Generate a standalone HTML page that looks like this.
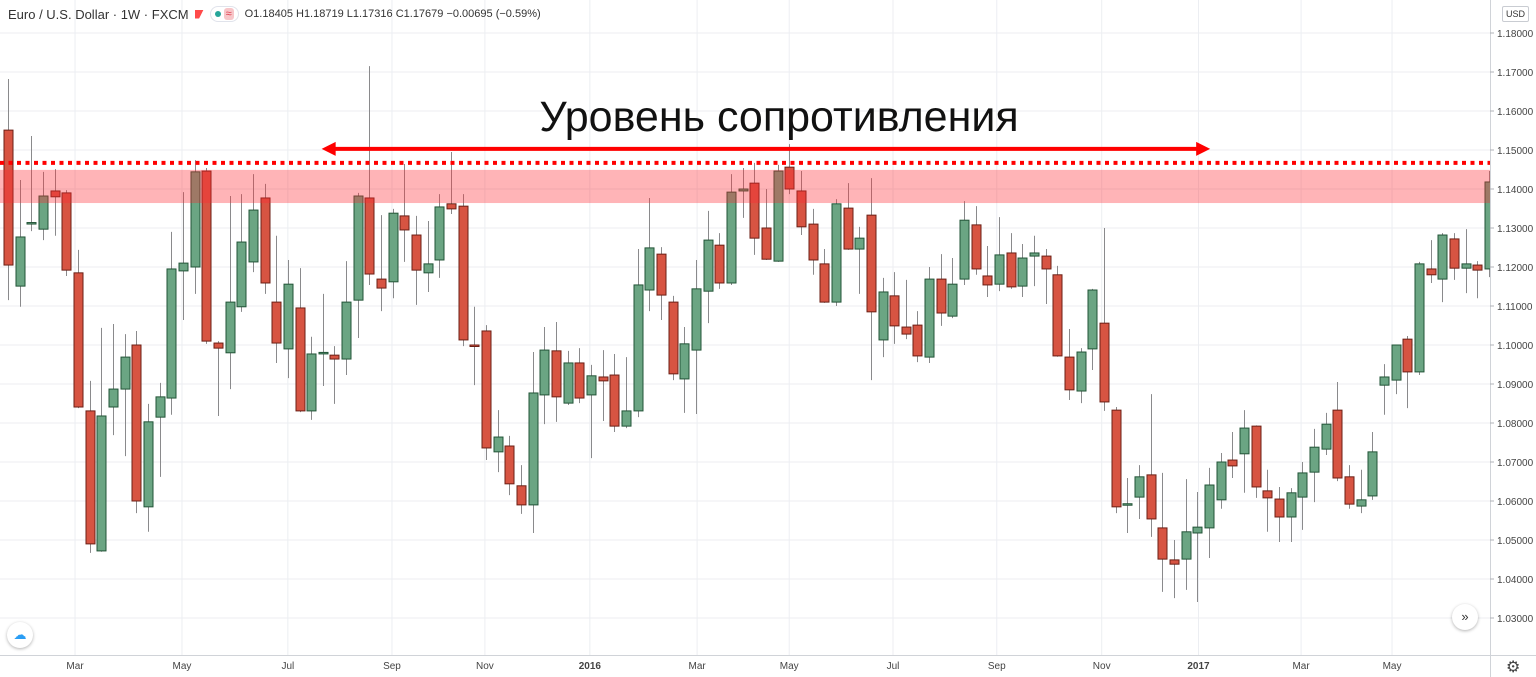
<!DOCTYPE html>
<html><head><meta charset="utf-8">
<style>
html,body{margin:0;padding:0;background:#fff;width:1536px;height:677px;overflow:hidden;font-family:"Liberation Sans","DejaVu Sans",sans-serif}
svg{display:block}
</style></head>
<body>
<svg id="chart" width="1536" height="677" viewBox="0 0 1536 677" xmlns="http://www.w3.org/2000/svg">
  <g id="grid"></g>
  <g id="candles"></g>
  <g id="overlay"></g>
  <g id="axes"></g>
</svg>
<script>
const opens=[1.1551,1.1151,1.1313,1.1297,1.1395,1.1390,1.1185,1.0831,1.0472,1.0841,1.0887,1.1000,1.0585,1.0815,1.0864,1.1190,1.1200,1.1446,1.1005,1.0980,1.1098,1.1213,1.1377,1.1110,1.0990,1.1095,1.0831,1.0980,1.0974,1.0964,1.1115,1.1377,1.1169,1.1162,1.1331,1.1282,1.1185,1.1218,1.1362,1.1356,1.1000,1.1036,1.0726,1.0741,1.0639,1.0590,1.0872,1.0985,1.0851,1.0954,1.0872,1.0918,1.0923,1.0792,1.0831,1.1141,1.1233,1.1110,1.0913,1.0987,1.1138,1.1256,1.1159,1.1395,1.1415,1.1300,1.1215,1.1456,1.1395,1.1310,1.1208,1.1110,1.1351,1.1246,1.1333,1.1013,1.1126,1.1046,1.1051,1.0969,1.1169,1.1074,1.1169,1.1308,1.1177,1.1156,1.1236,1.1151,1.1228,1.1228,1.1180,1.0969,1.0882,1.0990,1.1056,1.0833,1.0592,1.0610,1.0667,1.0531,1.0449,1.0451,1.0518,1.0531,1.0603,1.0705,1.0721,1.0792,1.0626,1.0605,1.0559,1.0610,1.0674,1.0733,1.0833,1.0662,1.0587,1.0613,1.0897,1.0910,1.1015,1.0931,1.1195,1.1169,1.1272,1.1197,1.1205,1.1195];
const highs=[1.1682,1.1423,1.1536,1.1444,1.1451,1.1397,1.1244,1.0908,1.1044,1.1054,1.1028,1.1036,1.0849,1.0903,1.1290,1.1392,1.1474,1.1454,1.1010,1.1382,1.1387,1.1438,1.1413,1.1280,1.1218,1.1197,1.1021,1.1131,1.0997,1.1215,1.1390,1.1715,1.1333,1.1349,1.1464,1.1331,1.1318,1.1387,1.1495,1.1387,1.1098,1.1051,1.0833,1.0767,1.0692,1.0982,1.1046,1.1059,1.0985,1.0992,1.0949,1.0987,1.0977,1.0969,1.1246,1.1377,1.1251,1.1126,1.1046,1.1218,1.1344,1.1287,1.1438,1.1454,1.1467,1.1400,1.1462,1.1515,1.1446,1.1349,1.1246,1.1374,1.1415,1.1303,1.1428,1.1172,1.1187,1.1167,1.1087,1.1200,1.1233,1.1223,1.1369,1.1356,1.1254,1.1328,1.1287,1.1259,1.1280,1.1246,1.1203,1.1041,1.0992,1.1144,1.1300,1.0841,1.0659,1.0692,1.0874,1.0672,1.0500,1.0656,1.0623,1.0685,1.0723,1.0777,1.0833,1.0794,1.0680,1.0636,1.0633,1.0700,1.0785,1.0826,1.0905,1.0692,1.0680,1.0777,1.0951,1.1001,1.1023,1.1213,1.1269,1.1287,1.1287,1.1297,1.1215,1.1446];
const lows=[1.1115,1.1098,1.1292,1.1269,1.1280,1.1177,1.0838,1.0467,1.0470,1.0769,1.0715,1.0569,1.0521,1.0662,1.0821,1.1064,1.1131,1.1003,1.0818,1.0887,1.1085,1.1187,1.1131,1.0954,1.0915,1.0828,1.0808,1.0895,1.0849,1.0923,1.1018,1.1154,1.1087,1.1120,1.1213,1.1103,1.1136,1.1172,1.1336,1.0997,1.0897,1.0705,1.0674,1.0615,1.0567,1.0518,1.0797,1.0803,1.0846,1.0851,1.0710,1.0805,1.0777,1.0787,1.0815,1.1087,1.1064,1.0910,1.0826,1.0823,1.1056,1.1144,1.1154,1.1326,1.1231,1.1218,1.1213,1.1387,1.1282,1.1180,1.1108,1.1100,1.1244,1.1131,1.0910,1.0969,1.1003,1.1015,1.0956,1.0954,1.1049,1.1069,1.1154,1.1180,1.1123,1.1138,1.1144,1.1123,1.1151,1.1105,1.0970,1.0859,1.0851,1.0936,1.0831,1.0569,1.0518,1.0554,1.0508,1.0367,1.0351,1.0372,1.0341,1.0454,1.0580,1.0659,1.0621,1.0608,1.0521,1.0495,1.0495,1.0526,1.0597,1.0718,1.0651,1.0580,1.0569,1.0603,1.0821,1.0874,1.0838,1.0923,1.1159,1.1110,1.1167,1.1133,1.1120,1.1174];
const closes=[1.1205,1.1277,1.1314,1.1382,1.1380,1.1192,1.0841,1.0490,1.0818,1.0887,1.0969,1.0600,1.0803,1.0867,1.1195,1.1210,1.1444,1.1010,1.0992,1.1110,1.1264,1.1346,1.1159,1.1005,1.1156,1.0831,1.0977,1.0981,1.0964,1.1110,1.1382,1.1182,1.1146,1.1338,1.1295,1.1192,1.1208,1.1354,1.1349,1.1013,1.0999,1.0736,1.0764,1.0644,1.0590,1.0877,1.0987,1.0867,1.0954,1.0864,1.0921,1.0908,1.0792,1.0831,1.1154,1.1249,1.1128,1.0926,1.1003,1.1144,1.1269,1.1159,1.1392,1.1400,1.1274,1.1220,1.1446,1.1400,1.1303,1.1218,1.1110,1.1362,1.1246,1.1274,1.1085,1.1136,1.1049,1.1028,1.0972,1.1169,1.1082,1.1156,1.1320,1.1195,1.1154,1.1231,1.1149,1.1223,1.1236,1.1195,1.0972,1.0885,1.0982,1.1141,1.0854,1.0585,1.0593,1.0662,1.0554,1.0451,1.0438,1.0521,1.0533,1.0641,1.0700,1.0690,1.0787,1.0636,1.0608,1.0559,1.0621,1.0672,1.0738,1.0797,1.0659,1.0592,1.0603,1.0726,1.0918,1.1000,1.0931,1.1208,1.1180,1.1282,1.1197,1.1208,1.1192,1.1418];
const priceTicks=[1.03,1.04,1.05,1.06,1.07,1.08,1.09,1.10,1.11,1.12,1.13,1.14,1.15,1.16,1.17,1.18];
const monthLabels=["Mar","May","Jul","Sep","Nov","2016","Mar","May","Jul","Sep","Nov","2017","Mar","May"];
const monthPos=[5.75,14.92,24.0,32.93,40.9,49.9,59.1,67.0,75.9,84.8,93.8,102.1,110.9,118.7];
const zoneTop=1.1449, zoneBottom=1.1364, resistanceLine=1.1467, arrowPrice=1.1503;
const arrowFrom=26.9, arrowTo=103.1;

const NS="http://www.w3.org/2000/svg";
const plotRight=1490;
function y(p){return 33+(1.18-p)*3900;}
function x(i){return 8+i*11.66;}
function mk(tag,attrs,parent){const e=document.createElementNS(NS,tag);for(const k in attrs)e.setAttribute(k,attrs[k]);parent.appendChild(e);return e;}

const grid=document.getElementById('grid');
priceTicks.forEach(p=>{
  const l=mk('line',{x1:0,x2:plotRight,y1:y(p),y2:y(p),stroke:'#eceef2','stroke-width':1},grid);
  
  
});
monthPos.forEach(m=>{
  const l=mk('line',{x1:x(m),x2:x(m),y1:0,y2:655,stroke:'#eceef2','stroke-width':1},grid);
  
  
});

const cg=document.getElementById('candles');
for(let i=0;i<opens.length;i++){
  const o=opens[i],c=closes[i],h=highs[i],lo=lows[i];
  const up=c>=o;
  const g=mk('g',{},cg);
  
  
  const cx=Math.round(x(i))+0.5;
  mk('line',{x1:cx,x2:cx,y1:y(h),y2:y(lo),stroke:'#8a8a8c','stroke-width':1},g);
  const top=y(Math.max(o,c)),bot=y(Math.min(o,c));
  mk('rect',{x:cx-4.5,y:top,width:9,height:Math.max(1.5,bot-top),fill:up?'#6ba583':'#d75442',stroke:up?'#225437':'#6b1f15','stroke-width':1},g);
}

const ov=document.getElementById('overlay');
const band=mk('rect',{x:0,y:y(zoneTop),width:plotRight,height:y(zoneBottom)-y(zoneTop),fill:'rgba(255,40,50,0.35)'},ov);


const dl=mk('line',{x1:0,x2:plotRight,y1:y(resistanceLine),y2:y(resistanceLine),stroke:'#ff0000','stroke-width':4,'stroke-dasharray':'4 4.5'},ov);


const ax1=x(arrowFrom),ax2=x(arrowTo),ay=y(arrowPrice);
const ar=mk('line',{x1:ax1+10,x2:ax2-10,y1:ay,y2:ay,stroke:'#ff0000','stroke-width':4},ov);


mk('polygon',{points:`${ax1},${ay} ${ax1+14},${ay-7} ${ax1+14},${ay+7}`,fill:'#ff0000'},ov);
mk('polygon',{points:`${ax2},${ay} ${ax2-14},${ay-7} ${ax2-14},${ay+7}`,fill:'#ff0000'},ov);
const title=mk('text',{x:779,y:131,'text-anchor':'middle','font-size':43,fill:'#111','font-family':'"Liberation Sans","DejaVu Sans",sans-serif'},ov);
title.textContent='Уровень сопротивления';



const axes=document.getElementById('axes');
mk('rect',{x:plotRight,y:0,width:46,height:677,fill:'#fff'},axes);
mk('rect',{x:0,y:655,width:1536,height:22,fill:'#fff'},axes);
mk('line',{x1:plotRight+0.5,x2:plotRight+0.5,y1:0,y2:677,stroke:'#d0d3d8'},axes);
mk('line',{x1:0,x2:1536,y1:655.5,y2:655.5,stroke:'#d0d3d8'},axes);
priceTicks.forEach(p=>{
  mk('line',{x1:plotRight,x2:plotRight+4,y1:y(p),y2:y(p),stroke:'#b0b3b8'},axes);
  const t=mk('text',{x:1497,y:y(p)+4,'font-size':10,fill:'#444'},axes);
  t.textContent=p.toFixed(5);
  
  
});
monthLabels.forEach((m,k)=>{
  const t=mk('text',{x:x(monthPos[k]),y:669,'text-anchor':'middle','font-size':10,fill:'#444','font-weight':(m.length===4?'bold':'normal')},axes);
  t.textContent=m;
  
  
});
</script>
<div style="position:absolute;left:8px;top:6px;font-size:13px;color:#333;white-space:nowrap;display:flex;align-items:center;gap:6px">
  <span>Euro / U.S. Dollar · 1W · FXCM</span>
  <span style="display:inline-block;width:9px;height:9px;background:#ff4a4a;clip-path:polygon(0 0,100% 0,50% 100%,0 100%)"></span>
  <span style="display:inline-flex;align-items:center;gap:3px;border:1px solid #e0e3eb;border-radius:9px;padding:0 4px;height:14px;font-size:11px"><span style="width:6px;height:6px;border-radius:50%;background:#26a69a;display:inline-block"></span><span style="background:#f7c6c9;color:#e04050;padding:0 2px;border-radius:3px">≈</span></span>
  <span style="font-size:11px">O1.18405 H1.18719 L1.17316 C1.17679 −0.00695 (−0.59%)</span>
</div>
<div style="position:absolute;left:1502px;top:6px;width:25px;height:14px;border:1px solid #c9ccd2;border-radius:2px;font-size:9px;color:#333;text-align:center;line-height:14px">USD</div>
<div style="position:absolute;left:7px;top:622px;width:26px;height:26px;border-radius:50%;background:#fff;box-shadow:0 1px 3px rgba(0,0,0,.3);color:#2a9df4;font-size:13px;text-align:center;line-height:26px">☁</div>
<div style="position:absolute;left:1452px;top:604px;width:26px;height:26px;border-radius:50%;background:#fff;box-shadow:0 1px 3px rgba(0,0,0,.3);font-size:13px;text-align:center;line-height:25px;color:#333">»</div>
<div style="position:absolute;left:1506px;top:657px;font-size:16px;color:#444">⚙</div>
</body></html>
